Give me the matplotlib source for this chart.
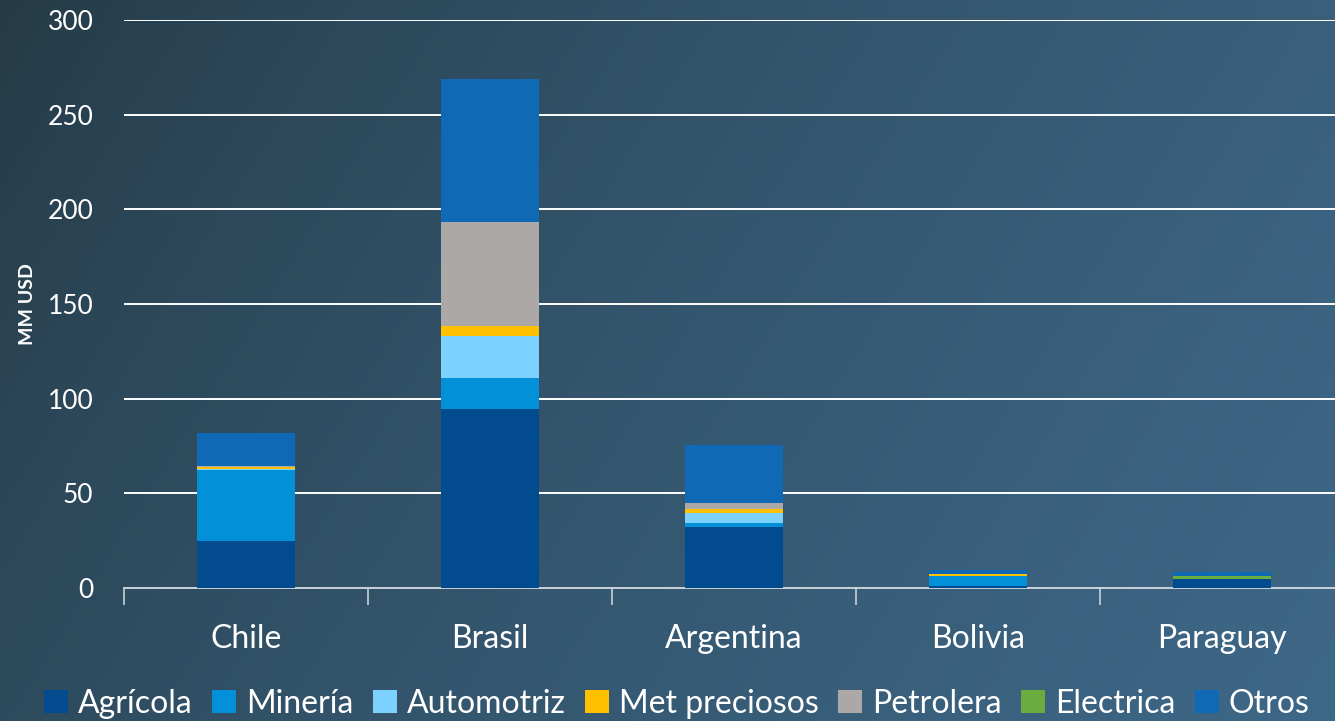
import numpy as np
import matplotlib
matplotlib.use("Agg")
import matplotlib.pyplot as plt
from matplotlib.patches import Patch

plt.rcParams['font.family'] = ['Lato', 'DejaVu Sans']

countries = ['Chile', 'Brasil', 'Argentina', 'Bolivia', 'Paraguay']
sectors = ['Agrícola', 'Minería', 'Automotriz', 'Met preciosos', 'Petrolera', 'Electrica', 'Otros']

agricola = [25.0, 94.5, 32.0, 1.0, 4.7]
mineria = [37.3, 16.5, 2.4, 5.5, 0.0]
automotriz = [0.5, 22.3, 5.1, 0.0, 0.0]
met_preciosos = [1.0, 5.3, 2.3, 0.9, 0.0]
petrolera = [0.8, 54.7, 3.2, 0.0, 0.0]
electrica = [0.0, 0.0, 0.0, 0.0, 1.8]
otros = [17.4, 75.6, 30.6, 2.1, 2.1]

series = [agricola, mineria, automotriz, met_preciosos, petrolera, electrica, otros]
colors = ['#024b8f', '#0291d9', '#7dd1fe', '#ffc000', '#aba8a7', '#6aad3e', '#0f69b4']

fig = plt.figure(figsize=(13.35, 7.21), dpi=100)

# background gradient (dark top-left to lighter blue right)
bg = fig.add_axes([0, 0, 1, 1], zorder=0)
xx, yy = np.meshgrid(np.linspace(0, 1, 400), np.linspace(0, 1, 220))
t = np.clip(0.75 * xx + 0.25 * yy, 0, 1) ** 0.7
c0 = np.array([0x24, 0x39, 0x44]) / 255
c1 = np.array([0x3e, 0x68, 0x88]) / 255
img = c0[None, None, :] * (1 - t[..., None]) + c1[None, None, :] * t[..., None]
bg.imshow(img, aspect='auto', extent=[0, 1, 0, 1], origin='upper')
bg.axis('off')

ax = fig.add_axes([124 / 1335, 1 - 588 / 721, 1220 / 1335, 568 / 721], zorder=1)
ax.patch.set_alpha(0)

x = np.arange(len(countries))
bottom = np.zeros(len(countries))
for vals, col, name in zip(series, colors, sectors):
    ax.bar(x, vals, 0.4, bottom=bottom, color=col, label=name, zorder=3)
    bottom += np.array(vals)

ax.set_xlim(-0.5, len(countries) - 0.5)
ax.set_ylim(0, 300)
ax.set_yticks(range(0, 301, 50))
ax.yaxis.grid(True, color='white', linewidth=1.4, zorder=0)
ax.set_axisbelow(True)
ax.set_xticks(x)
ax.set_xticklabels(countries, fontsize=23, color='white')
ax.set_xticks(np.arange(-0.5, len(countries), 1), minor=True)
ax.tick_params(axis='x', which='major', length=0, pad=26)
ax.tick_params(axis='x', which='minor', length=12, width=1.2, color='#c8d0d8')
ax.tick_params(axis='y', length=0, labelsize=19, labelcolor='white', pad=22)
for s in ['top', 'right', 'left']:
    ax.spines[s].set_visible(False)
ax.spines['bottom'].set_color('#c8d0d8')
ax.spines['bottom'].set_linewidth(1.4)
ax.set_ylabel('MM USD', fontsize=14, color='white', fontweight='bold', labelpad=8)

handles = [Patch(facecolor=c, edgecolor='none') for c in colors]
fig.legend(handles, sectors, loc='center', bbox_to_anchor=(0.507, 0.024), ncol=7,
           frameon=False, prop={'size': 23}, labelcolor='white',
           handlelength=0.75, handleheight=0.75, handletextpad=0.3, columnspacing=0.62)

fig.savefig('out.png', dpi=100)
